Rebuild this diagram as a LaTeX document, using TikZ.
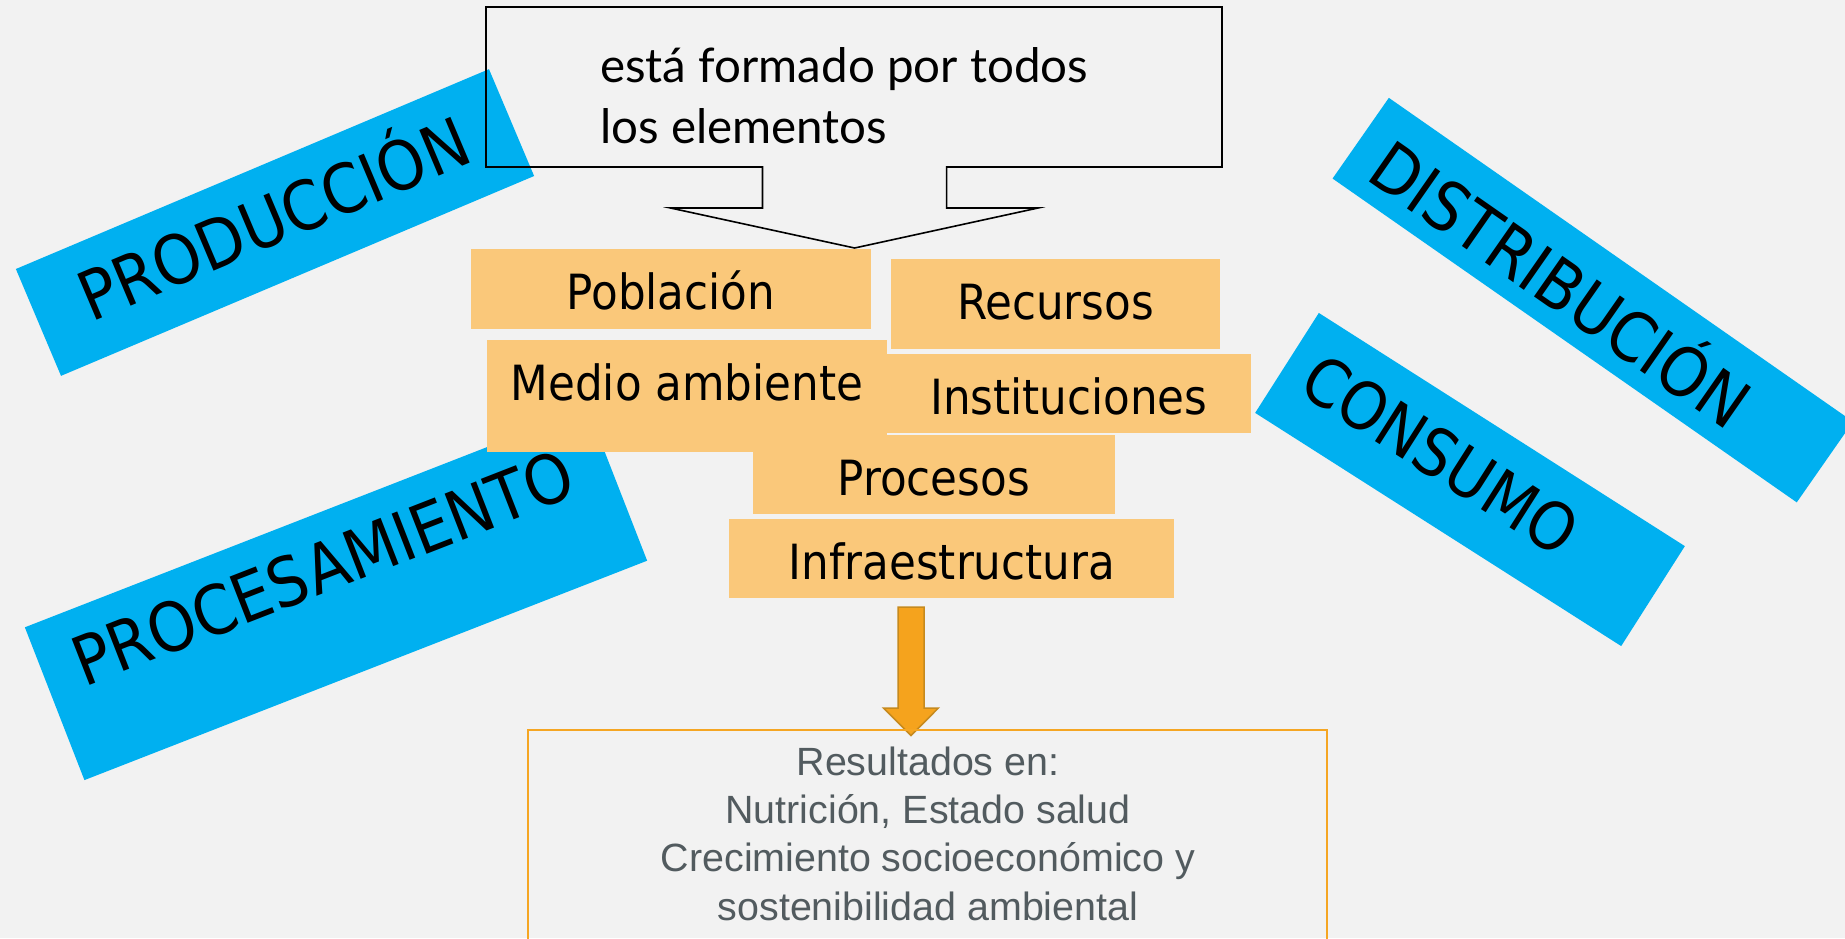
\documentclass[tikz,border=0pt]{standalone}
\usepackage{fontspec}
\setmainfont{DejaVu Sans}
\newfontfamily\tahfont{DejaVu Sans Condensed}
\newfontfamily\gillfont{Lato}
\newfontfamily\arialfont{Liberation Sans}
\definecolor{bg}{HTML}{F2F2F2}
\definecolor{bannerblue}{HTML}{00B0F0}
\definecolor{elemorange}{HTML}{FAC87A}
\definecolor{arroworange}{HTML}{F5A31D}
\definecolor{arrowedge}{HTML}{C68A1E}
\definecolor{resline}{HTML}{F5A623}
\definecolor{restext}{HTML}{525B5F}
\begin{document}
\begin{tikzpicture}[x=1pt,y=-1pt,
  banner/.style={fill=bannerblue, draw=none, inner sep=0pt, outer sep=0pt},
  bannertext/.style={font=\tahfont\fontsize{68}{68}\selectfont, inner sep=0pt, text height=49pt, text depth=0pt},
  elem/.style={fill=elemorange, draw=none, inner sep=0pt, outer sep=0pt,
    font=\tahfont\fontsize{48.5}{48.5}\selectfont, text height=41pt, text depth=0pt},
  callout/.style={draw=black, line width=1.6pt, line join=miter},
  resbox/.style={draw=resline, line width=2pt},
  blockarrow/.style={fill=arroworange, draw=arrowedge, line width=1.5pt},
]
\useasboundingbox (0,0) rectangle (1845,938);
\fill[bg] (0,0) rectangle (1845,938);
\clip (0,0) rectangle (1845,938);

% blue banners
\node[banner, rotate=22.9, minimum width=513.6pt, minimum height=116pt] (prodbanner) at (275,222.5) {};
\node[bannertext, rotate=22.9] (prodtext) at (274,219) {PRODUCCIÓN};

\node[banner, rotate=21.3, minimum width=604pt, minimum height=164pt] (procbanner) at (336,594) {};
\node[bannertext, rotate=21.3] (proctext) at (323,568) {PROCESAMIENTO};

\node[banner, rotate=-34.9, minimum width=566pt, minimum height=98.4pt] (distbanner) at (1592.8,300.1) {};
\node[bannertext, rotate=-34.9] (disttext) at (1560,285) {DISTRIBUCIÓN};

\node[banner, rotate=-32.5, minimum width=434pt, minimum height=118.5pt] (consbanner) at (1470,479.5) {};
\node[bannertext, font=\tahfont\fontsize{66}{66}\selectfont, rotate=-32.5] (constext) at (1440.7,454.3) {CONSUMO};

% callout
\draw[callout] (486,7) -- (1222,7) -- (1222,167) -- (946.6,167) -- (946.6,208)
  -- (1038,208) -- (854.6,248) -- (670.5,208) -- (762.5,208) -- (762.5,167)
  -- (486,167) -- cycle;
\node[anchor=base west, align=left, inner sep=0pt,
  font=\gillfont\fontsize{47.5}{61}\selectfont] (calltext) at (600,143)
  {está formado por todos\\los elementos};

% elements
\node[elem, minimum width=400pt, minimum height=80.3pt] (poblacion) at (671,289.2) {Población};
\node[elem, minimum width=329pt, minimum height=90pt, text height=31pt] (recursos) at (1055.5,304.3) {Recursos};
\node[elem, minimum width=363.7pt, minimum height=79pt] (instituciones) at (1068.9,393.8) {Instituciones};
\node[elem, minimum width=362pt, minimum height=79.3pt] (procesos) at (933.8,474.7) {Procesos};
\node[elem, minimum width=400pt, minimum height=111.7pt, text height=36pt, text depth=27.6pt] (medio) at (687,395.8) {Medio ambiente};
\node[elem, minimum width=445pt, minimum height=79pt] (infra) at (951.9,558.8) {Infraestructura};

% block arrow
\draw[blockarrow] (898,607) -- (924,607) -- (924,708) -- (938.4,708) -- (911,735.5)
  -- (883.5,708) -- (898,708) -- cycle;

% results box
\draw[resbox] (528,729.5) rectangle (1327,950);
\node[anchor=base, align=center, inner sep=0pt, text=restext,
  font=\arialfont\fontsize{39.4}{48.3}\selectfont] (results) at (928,920)
  {Resultados en:\\Nutrición, Estado salud\\Crecimiento socioeconómico y\\sostenibilidad ambiental};
\end{tikzpicture}
\end{document}
